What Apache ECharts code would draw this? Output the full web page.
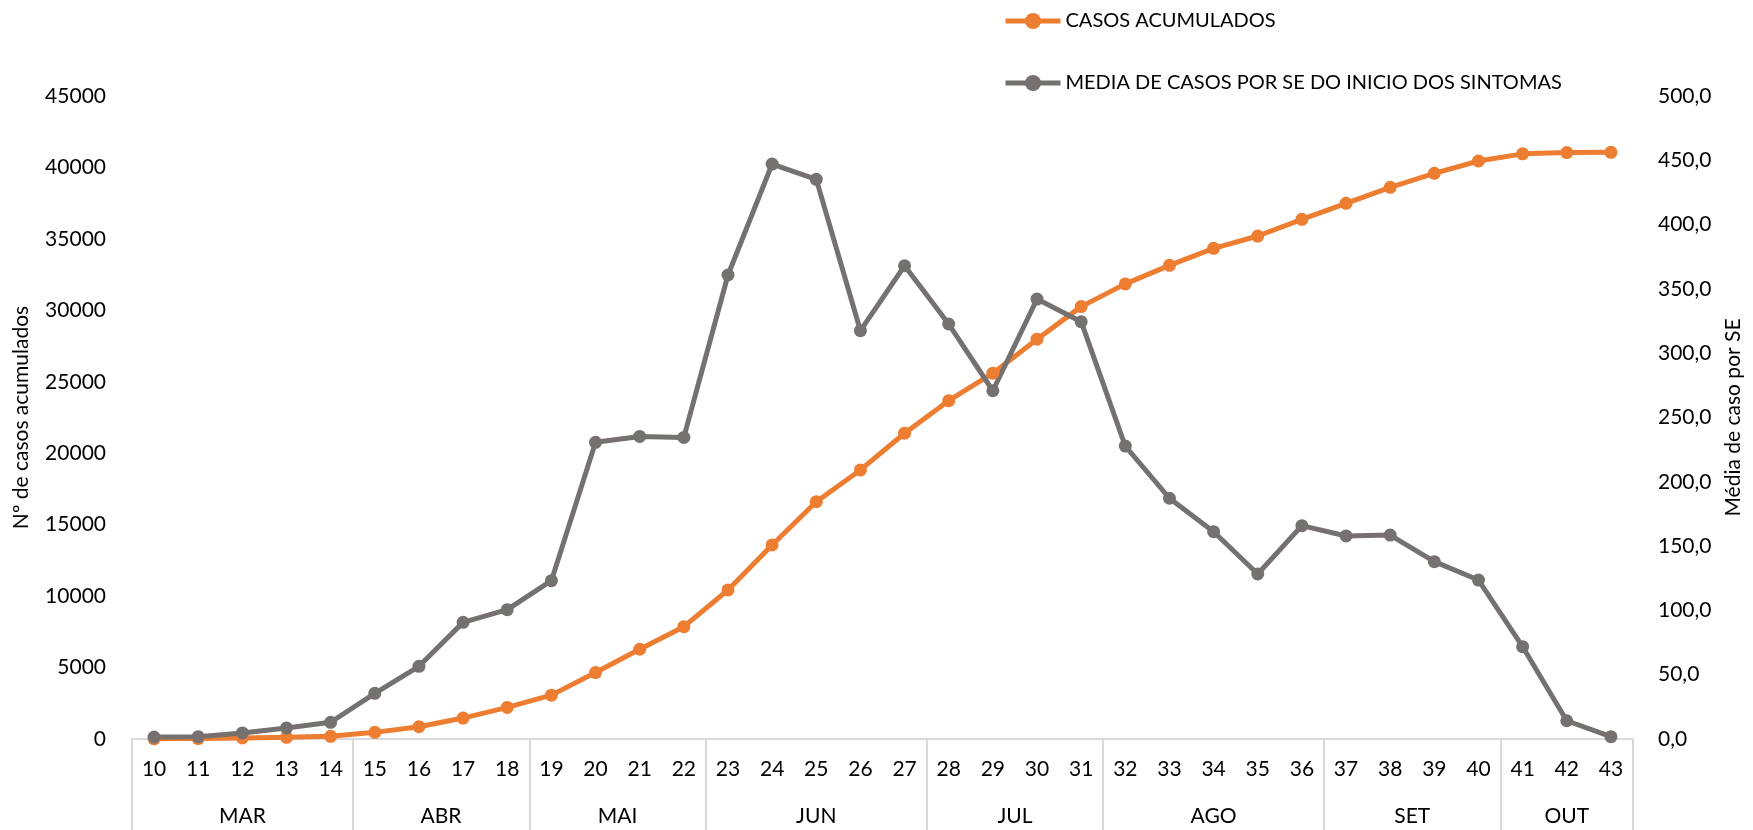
<!DOCTYPE html>
<html>
<head>
<meta charset="utf-8">
<script src="https://cdn.jsdelivr.net/npm/echarts@6/dist/echarts.min.js"></script>
<style>
html,body{margin:0;padding:0;background:#fff;}
#chart{width:1753px;height:830px;}
</style>
</head>
<body>
<div id="chart"></div>
<script>
// ---- data ----
const weeks = ['10','11','12','13','14','15','16','17','18','19','20','21','22','23','24','25','26','27','28','29','30','31','32','33','34','35','36','37','38','39','40','41','42','43'];
const months = ['MAR','ABR','MAI','JUN','JUL','AGO','SET','OUT'];
const weeksPerMonth = [5,4,4,5,4,5,4,3];
const casosAcumulados = [10,30,70,120,190,465,860,1465,2210,3070,4650,6280,7860,10430,13580,16610,18830,21400,23680,25600,27980,30260,31850,33150,34340,35200,36370,37490,38610,39590,40450,40950,41040,41060];
const mediaCasos = [1.5,1.8,4.7,8.6,13.0,35.5,56.5,90.7,100.6,123.1,230.7,235.3,234.5,360.8,447.1,435.2,317.5,368.0,322.7,270.8,342.1,324.5,227.8,187.2,161.2,128.3,165.9,157.9,158.6,137.9,123.6,71.8,14.2,1.8];
const leftAxis = {min:0, max:45000, step:5000};
const rightAxis = {min:0, max:500, step:50};
const seriesNames = ['CASOS ACUMULADOS','MEDIA DE CASOS POR SE DO INICIO DOS SINTOMAS'];
const axisNames = ['Nº de casos acumulados','Média de caso por SE'];

// month boundaries / centers derived from weeksPerMonth
const boundaries = [0];
weeksPerMonth.forEach(n => boundaries.push(boundaries[boundaries.length-1] + n));
const centers = months.map((m, i) => (boundaries[i] + boundaries[i+1]) / 2);

const FONT = 'Lato';
const FS = 21;
const ORANGE = '#ED7D31';
const GRAY = '#767171';
const AXISC = '#d9d9d9';

const chart = echarts.init(document.getElementById('chart'));
chart.setOption({
  animation:false,
  textStyle:{fontFamily:FONT},
  legend:{
    orient:'vertical', left:998, top:6, itemWidth:55, itemHeight:20, itemGap:42,
    textStyle:{fontSize:20, color:'#000', fontFamily:FONT},
    lineStyle:{width:5},
    data:seriesNames
  },
  grid:{left:132, right:120, top:96, bottom:91, containLabel:false},
  xAxis:[
    {
      type:'category', data:weeks, boundaryGap:true, position:'bottom',
      axisLine:{show:true, lineStyle:{color:AXISC, width:2}},
      axisTick:{show:false},
      axisLabel:{color:'#000', fontSize:FS, fontFamily:FONT, margin:20, interval:0}
    },
    {
      type:'value', position:'bottom', min:0, max:boundaries[boundaries.length-1],
      axisLine:{show:false}, splitLine:{show:false},
      axisTick:{show:true, customValues:boundaries, length:95, lineStyle:{color:AXISC, width:2}},
      axisLabel:{show:true, customValues:centers, margin:67, color:'#000', fontSize:FS, fontFamily:FONT,
        formatter:function(v){ const i = centers.indexOf(v); return i >= 0 ? months[i] : ''; }}
    }
  ],
  yAxis:[
    {
      type:'value', min:leftAxis.min, max:leftAxis.max, interval:leftAxis.step, position:'left',
      name:axisNames[0], nameLocation:'middle', nameRotate:90, nameGap:100,
      nameTextStyle:{color:'#000', fontSize:FS, fontFamily:FONT},
      axisLine:{show:false}, axisTick:{show:false}, splitLine:{show:false},
      axisLabel:{color:'#000', fontSize:FS, fontFamily:FONT, margin:26,
        formatter:function(v){ return String(v); }}
    },
    {
      type:'value', min:rightAxis.min, max:rightAxis.max, interval:rightAxis.step, position:'right',
      name:axisNames[1], nameLocation:'middle', nameRotate:90, nameGap:90,
      nameTextStyle:{color:'#000', fontSize:FS, fontFamily:FONT},
      axisLine:{show:false}, axisTick:{show:false}, splitLine:{show:false},
      axisLabel:{color:'#000', fontSize:FS, fontFamily:FONT, margin:25,
        formatter:function(v){ return v.toFixed(1).replace('.', ','); }}
    }
  ],
  series:[
    {
      name:seriesNames[0], type:'line', xAxisIndex:0, yAxisIndex:0, data:casosAcumulados,
      symbol:'circle', symbolSize:13, color:ORANGE,
      lineStyle:{color:ORANGE, width:5}, itemStyle:{color:ORANGE}
    },
    {
      name:seriesNames[1], type:'line', xAxisIndex:0, yAxisIndex:1, data:mediaCasos,
      symbol:'circle', symbolSize:13, color:GRAY,
      lineStyle:{color:GRAY, width:5}, itemStyle:{color:GRAY}
    }
  ]
});
</script>
</body>
</html>
